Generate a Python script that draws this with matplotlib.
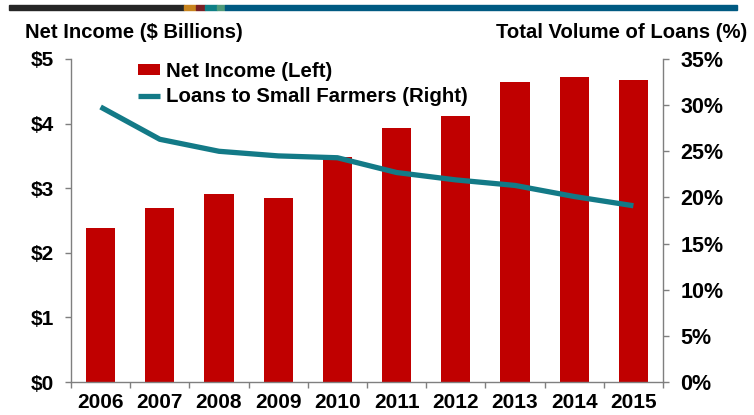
import matplotlib
matplotlib.use("Agg")
import matplotlib.pyplot as plt
import numpy as np
from matplotlib.patches import Rectangle
from matplotlib.ticker import FixedLocator

plt.rcParams['font.family'] = ['Liberation Sans', 'DejaVu Sans']

years = ['2006', '2007', '2008', '2009', '2010', '2011', '2012', '2013', '2014', '2015']
net_income = [2.38, 2.70, 2.91, 2.85, 3.49, 3.93, 4.11, 4.64, 4.72, 4.68]
loans_small = [29.8, 26.3, 25.0, 24.5, 24.3, 22.7, 21.9, 21.3, 20.1, 19.1]
left_ticks = ['$0', '$1', '$2', '$3', '$4', '$5']
right_ticks = ['0%', '5%', '10%', '15%', '20%', '25%', '30%', '35%']

bar_color = '#C00000'
line_color = '#137A87'
spine_color = '#7F7F7F'

fig = plt.figure(figsize=(7.54, 4.15), dpi=100)
ax = fig.add_axes([71/754, 1-382/415, (663-71)/754, (382-59)/415])
ax2 = ax.twinx()

x = np.arange(len(years))
bars = ax.bar(x, net_income, width=0.49, color=bar_color, zorder=2,
              label='Net Income (Left)')
ln, = ax2.plot(x, loans_small, color=line_color, lw=3.8, solid_capstyle='butt',
               label='Loans to Small Farmers (Right)')

ax.set_xlim(-0.5, len(years) - 0.5)
ax.set_ylim(0, 5)
ax2.set_ylim(0, 35)

ax.set_yticks(range(6))
ax.set_yticklabels(left_ticks, fontsize=15, fontweight='bold')
ax2.set_yticks(range(0, 36, 5))
ax2.set_yticklabels(right_ticks, fontsize=15.5, fontweight='bold')

ax.set_xticks(x)
ax.set_xticklabels(years, fontsize=15, fontweight='bold')
ax.xaxis.set_minor_locator(FixedLocator(np.arange(-0.5, len(years), 1.0)))
ax.tick_params(axis='x', which='major', length=0, pad=8)
ax.tick_params(axis='x', which='minor', length=4.5, direction='out', color=spine_color, width=1)
ax.tick_params(axis='y', length=4.5, color=spine_color, width=1, pad=8)
ax2.tick_params(axis='y', length=4.5, color=spine_color, width=1, pad=8)

for a in (ax, ax2):
    a.spines['top'].set_visible(False)
    for s in ('left', 'right', 'bottom'):
        a.spines[s].set_color(spine_color)
        a.spines[s].set_linewidth(1)
ax2.spines['left'].set_visible(False)
ax.spines['right'].set_visible(False)
ax2.spines['bottom'].set_visible(False)

fig.text(25/754, 1-32/415, 'Net Income ($ Billions)', fontsize=14.6, fontweight='bold',
         ha='left', va='center')
fig.text(747/754, 1-32/415, 'Total Volume of Loans (%)', fontsize=14.6, fontweight='bold',
         ha='right', va='center')

leg = ax.legend([bars, ln], ['Net Income (Left)', 'Loans to Small Farmers (Right)'],
                loc='upper left', bbox_to_anchor=((138-71)/592, (382-62)/323), frameon=False,
                prop={'size': 14.7, 'weight': 'bold'}, handlelength=1.1, handleheight=0.45,
                handletextpad=0.25, labelspacing=0.3, borderaxespad=0, borderpad=0)

# top decorative stripe
stripe = [(9, 184, '#262626'), (184, 196, '#C8841E'), (196, 205, '#7A1F24'),
          (205, 217, '#0E7F86'), (217, 225, '#4E9A7A'), (225, 737, '#005A82')]
for x0, x1, c in stripe:
    fig.patches.append(Rectangle((x0/754, 1-10/415), (x1-x0)/754, 5/415,
                                 transform=fig.transFigure, color=c, zorder=5))

fig.savefig('out.png', dpi=100)
